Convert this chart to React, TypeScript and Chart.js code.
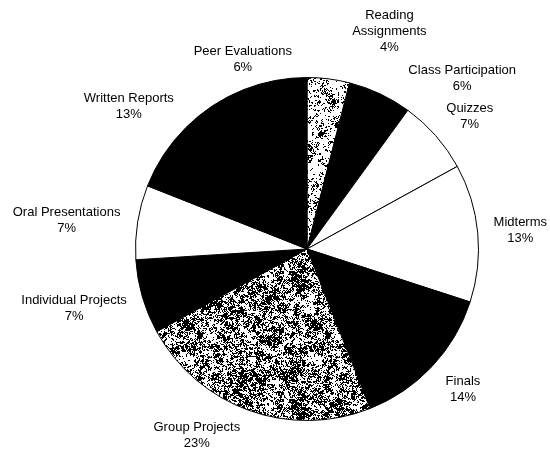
import React, { useEffect, useRef } from "react";
import { Chart, registerables } from "chart.js";

Chart.register(...registerables);

// ---- data ----
const CATEGORIES = [
  "Reading\nAssignments",
  "Class Participation",
  "Quizzes",
  "Midterms",
  "Finals",
  "Group Projects",
  "Individual Projects",
  "Oral Presentations",
  "Written Reports",
  "Peer Evaluations",
];
const PERCENTS = [4, 6, 7, 13, 14, 23, 7, 7, 13, 6];
const FILL_KINDS = [
  "speckleLight",
  "black",
  "white",
  "white",
  "black",
  "speckle",
  "black",
  "white",
  "black",
  "black",
];

// ---- label layout (text annotation nudges, px) ----
const LABEL_NUDGE: [number, number][] = [
  [55, -14],
  [55, 8],
  [9, -2],
  [6, 0],
  [11, 5],
  [-34, 1],
  [-8, 4],
  [-8, 2],
  [-18, -3],
  [-21, 4],
];

function hash(x: number, y: number, seed: number): number {
  let n = (x * 374761393 + y * 668265263 + seed * 2246822519) | 0;
  n = Math.imul(n ^ (n >>> 13), 1274126177);
  n = n ^ (n >>> 16);
  return (n >>> 0) / 4294967296;
}

function valueNoise(x: number, y: number, s: number, seed: number): number {
  const gx = Math.floor(x / s);
  const gy = Math.floor(y / s);
  const fx = x / s - gx;
  const fy = y / s - gy;
  const a = hash(gx, gy, seed);
  const b = hash(gx + 1, gy, seed);
  const c = hash(gx, gy + 1, seed);
  const d = hash(gx + 1, gy + 1, seed);
  const top = a + (b - a) * fx;
  const bot = c + (d - c) * fx;
  return top + (bot - top) * fy;
}

function makeSpeckle(density: number, seed: number): CanvasPattern | string {
  const size = 128;
  const c = document.createElement("canvas");
  c.width = size;
  c.height = size;
  const ctx = c.getContext("2d");
  if (!ctx) return "#888";
  const img = ctx.createImageData(size, size);
  for (let y = 0; y < size; y++) {
    for (let x = 0; x < size; x++) {
      const v =
        0.3 * valueNoise(x, y, 6, seed) +
        0.35 * valueNoise(x, y, 2, seed + 7) +
        0.35 * hash(x, y, seed + 13);
      const dark = v < density;
      const i = (y * size + x) * 4;
      const col = dark ? 0 : 255;
      img.data[i] = col;
      img.data[i + 1] = col;
      img.data[i + 2] = col;
      img.data[i + 3] = 255;
    }
  }
  ctx.putImageData(img, 0, 0);
  return ctx.createPattern(c, "repeat") || "#888";
}

const FONT = '13px "Liberation Sans", Arial, sans-serif';

const labelPlugin = {
  id: "outsideLabels",
  afterDraw(chart: any) {
    const meta = chart.getDatasetMeta(0);
    const ctx = chart.ctx as CanvasRenderingContext2D;
    ctx.save();
    ctx.font = FONT;
    ctx.fillStyle = "#000";
    ctx.textAlign = "center";
    ctx.textBaseline = "middle";
    const lineH = 16;
    meta.data.forEach((arc: any, i: number) => {
      const mid = (arc.startAngle + arc.endAngle) / 2;
      const ux = Math.cos(mid);
      const uy = Math.sin(mid);
      const d = arc.outerRadius + 10;
      const px = arc.x + ux * d;
      const py = arc.y + uy * d;
      const lines = [...CATEGORIES[i].split("\n"), `${PERCENTS[i]}%`];
      const w = Math.max(...lines.map((l) => ctx.measureText(l).width));
      const h = lines.length * lineH;
      const cx = px + (ux * w) / 2 + LABEL_NUDGE[i][0];
      const cy = py + (uy * h) / 2 + LABEL_NUDGE[i][1];
      lines.forEach((l, k) => {
        ctx.fillText(l, cx, cy - h / 2 + lineH / 2 + k * lineH);
      });
    });
    ctx.restore();
  },
};

export default function App() {
  const ref = useRef<HTMLCanvasElement | null>(null);

  useEffect(() => {
    if (!ref.current) return;
    const fills: Record<string, any> = {
      black: "#000000",
      white: "#ffffff",
      speckle: makeSpeckle(0.5, 3),
      speckleLight: makeSpeckle(0.4, 11),
    };
    const chart = new Chart(ref.current, {
      type: "pie",
      data: {
        labels: CATEGORIES.map((c) => c.replace("\n", " ")),
        datasets: [
          {
            data: PERCENTS,
            backgroundColor: FILL_KINDS.map((k) => fills[k]),
            borderColor: "#000000",
            borderWidth: 1,
          },
        ],
      },
      options: {
        responsive: false,
        animation: false,
        devicePixelRatio: 1,
        layout: { padding: { left: 132, right: 68, top: 77, bottom: 31 } },
        plugins: {
          legend: { display: false },
          tooltip: { enabled: false },
        },
      },
      plugins: [labelPlugin],
    });
    return () => chart.destroy();
  }, []);

  return (
    <div style={{ position: "absolute", left: 0, top: 0, width: 550, height: 452, background: "#fff" }}>
      <canvas ref={ref} width={550} height={452} />
    </div>
  );
}
